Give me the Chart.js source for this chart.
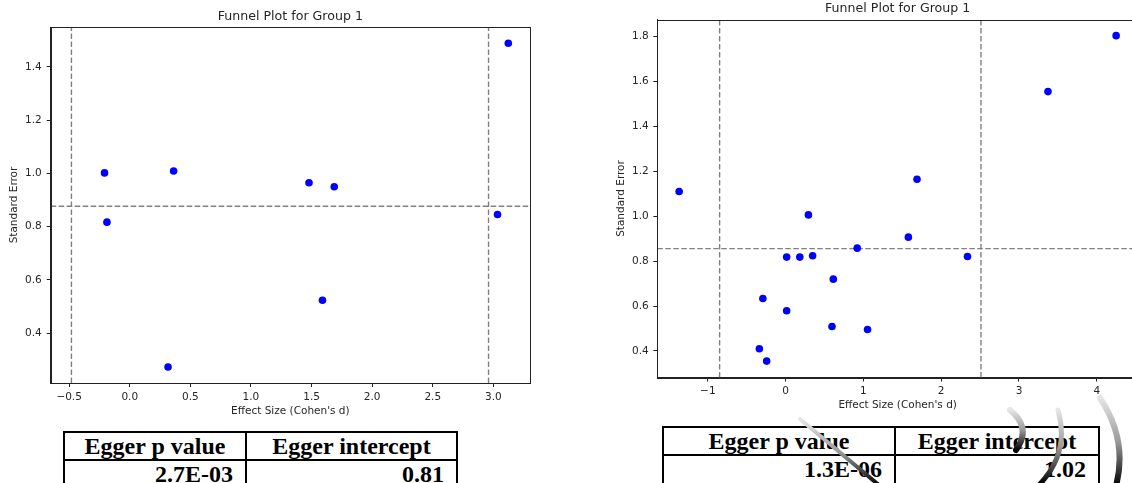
<!DOCTYPE html>
<html>
<head>
<meta charset="utf-8">
<script src="https://cdn.jsdelivr.net/npm/chart.js@4.4.0/dist/chart.umd.min.js"></script>
<style>
  html, body { margin: 0; padding: 0; background: #fff; width: 1132px; height: 483px; overflow: hidden; position: relative; }
  canvas { position: absolute; }
  .tbl { position: absolute; border-collapse: collapse; font-family: "Liberation Serif", "Times New Roman", serif; font-weight: bold; font-size: 24px; color: #000; }
  .tbl td { border: 2px solid #000; line-height: 24px; padding: 0 12px; box-sizing: border-box; white-space: nowrap; }
  .tbl tr.h td { text-align: center; height: 28px; }
  .tbl tr.v td { text-align: right; height: 32px; vertical-align: top; padding-top: 1px; }
  svg.wm { position: absolute; left: 0; top: 0; pointer-events: none; }
</style>
</head>
<body>
<canvas id="c1" width="545" height="420" style="left:0px;top:0px;"></canvas>
<canvas id="c2" width="560" height="420" style="left:600px;top:0px;"></canvas>

<table class="tbl" id="t1" style="left:63px;top:431px;width:395px;">
  <tr class="h"><td style="width:182px">Egger p value</td><td>Egger intercept</td></tr>
  <tr class="v"><td>2.7E-03</td><td>0.81</td></tr>
</table>
<table class="tbl" id="t2" style="left:662px;top:426px;width:438px;">
  <tr class="h"><td style="width:232px">Egger p value</td><td>Egger intercept</td></tr>
  <tr class="v"><td>1.3E-06</td><td>1.02</td></tr>
</table>

<svg class="wm" width="1132" height="483" viewBox="0 0 1132 483">
  <defs>
    <linearGradient id="g1" x1="0" y1="0" x2="0" y2="1">
      <stop offset="0" stop-color="#e6e6e6"/>
      <stop offset="0.5" stop-color="#999"/>
      <stop offset="1" stop-color="#000"/>
    </linearGradient>
  </defs>
  <path d="M 800 419 L 880 486" stroke="url(#g1)" stroke-width="4" fill="none" stroke-linecap="round"/>
  <path d="M 1010 410 Q 1032 428 1016 450" stroke="url(#g1)" stroke-width="6" fill="none" stroke-linecap="round"/>
  <path d="M 1058 410 Q 1070 452 1040 484" stroke="url(#g1)" stroke-width="5" fill="none" stroke-linecap="round"/>
  <path d="M 1100 398 Q 1128 440 1116 486" stroke="url(#g1)" stroke-width="6" fill="none" stroke-linecap="round"/>
</svg>

<script>
// ---------- Data: chart 1 ----------
const title1 = "Funnel Plot for Group 1";
const effect1 = [-0.208, -0.188, 0.362, 0.316, 1.479, 1.687, 1.590, 3.034, 3.123];
const se1     = [1.002, 0.817, 1.009, 0.273, 0.965, 0.950, 0.524, 0.846, 1.489];
const vlines1 = [-0.481, 2.960];
const hline1  = 0.877;
const xTicks1 = [-0.5, 0.0, 0.5, 1.0, 1.5, 2.0, 2.5, 3.0];
const yTicks1 = [0.4, 0.6, 0.8, 1.0, 1.2, 1.4];

// ---------- Data: chart 2 ----------
const title2 = "Funnel Plot for Group 1";
const effect2 = [-1.369, 0.293, 1.689, 1.578, 0.920, 0.013, 0.182, 0.347, 2.338, 0.613, -0.293, 0.013, 0.596, 1.053, -0.338, -0.244, 3.373, 4.249];
const se2     = [1.110, 1.006, 1.165, 0.907, 0.858, 0.818, 0.818, 0.824, 0.821, 0.720, 0.634, 0.579, 0.509, 0.496, 0.410, 0.355, 1.555, 1.804];
const vlines2 = [-0.849, 2.511];
const hline2  = 0.856;
const xTicks2 = [-1, 0, 1, 2, 3, 4];
const yTicks2 = [0.4, 0.6, 0.8, 1.0, 1.2, 1.4, 1.6, 1.8];

const xLabel = "Effect Size (Cohen's d)";
const yLabel = "Standard Error";

const FONT = "'DejaVu Sans', sans-serif";
const TXT = '#262626';

function fmt(v, dec) { return v.toFixed(dec).replace('-', '\u2212'); }

function makeChart(id, cfg) {
  const pts = cfg.xs.map((x, i) => ({ x: x, y: cfg.ys[i] }));
  const datasets = [{
    type: 'scatter', data: pts, backgroundColor: '#0000ff', borderColor: '#0000ff',
    pointRadius: 3.8, pointHoverRadius: 3.8, borderWidth: 0, order: 0
  }];
  cfg.vlines.forEach(v => datasets.push({
    type: 'line', data: [{ x: v, y: cfg.yMin }, { x: v, y: cfg.yMax }],
    borderColor: '#808080', borderWidth: 1.4, borderDash: [5.5, 2.5], pointRadius: 0, order: 1
  }));
  datasets.push({
    type: 'line', data: [{ x: cfg.xMin, y: cfg.hline }, { x: cfg.xMax, y: cfg.hline }],
    borderColor: '#808080', borderWidth: 1.4, borderDash: [5.5, 2.5], pointRadius: 0, order: 1
  });

  const framePlugin = {
    id: 'frame',
    afterDraw(chart) {
      const a = chart.chartArea, ctx = chart.ctx;
      ctx.save();
      ctx.strokeStyle = '#222';
      ctx.lineWidth = 1;
      ctx.strokeRect(Math.round(a.left) + 0.5, Math.round(a.top) + 0.5, Math.round(a.right - a.left), Math.round(a.bottom - a.top));
      ctx.fillStyle = TXT;
      ctx.font = "12.6px " + FONT;
      ctx.textAlign = 'center';
      ctx.textBaseline = 'middle';
      ctx.fillText(cfg.title, (a.left + a.right) / 2, cfg.titleY);
      ctx.restore();
    }
  };

  return new Chart(document.getElementById(id), {
    data: { datasets: datasets },
    options: {
      responsive: false, animation: false, devicePixelRatio: 1,
      layout: { padding: { top: cfg.padTop, right: cfg.padRight, left: 0, bottom: 0 } },
      plugins: { legend: { display: false }, tooltip: { enabled: false }, title: { display: false } },
      scales: {
        x: {
          type: 'linear', min: cfg.xMin, max: cfg.xMax,
          afterBuildTicks(s) { s.ticks = cfg.xTicks.map(v => ({ value: v })); },
          afterFit(s) { s.height = cfg.xAxisH; },
          grid: { display: true, drawOnChartArea: false, drawTicks: true, tickLength: 4, color: '#222', tickWidth: 1 },
          border: { display: true, color: '#222', width: 1 },
          ticks: { color: TXT, font: { family: FONT, size: 10.5 }, padding: cfg.xTickPad, maxRotation: 0, autoSkip: false,
                   callback: v => fmt(v, cfg.xDec) },
          title: { display: true, text: xLabel, color: TXT, font: { family: FONT, size: 10.5 }, padding: { top: 0, bottom: cfg.xTitlePad } }
        },
        y: {
          type: 'linear', min: cfg.yMin, max: cfg.yMax,
          afterBuildTicks(s) { s.ticks = cfg.yTicks.map(v => ({ value: v })); },
          afterFit(s) { s.width = cfg.yAxisW; },
          grid: { display: true, drawOnChartArea: false, drawTicks: true, tickLength: 4, color: '#222', tickWidth: 1 },
          border: { display: true, color: '#222', width: 1 },
          ticks: { color: TXT, font: { family: FONT, size: 10.5 }, padding: cfg.yTickPad, autoSkip: false,
                   callback: v => fmt(v, 1) },
          title: { display: true, text: yLabel, color: TXT, font: { family: FONT, size: 10.5 }, padding: { top: cfg.yTitlePad, bottom: 0 } }
        }
      }
    },
    plugins: [framePlugin]
  });
}

makeChart('c1', {
  title: title1, titleY: 16.7, xs: effect1, ys: se1, vlines: vlines1, hline: hline1,
  xTicks: xTicks1, yTicks: yTicks1, xDec: 1,
  xMin: -0.652, xMax: 3.302, yMin: 0.213, yMax: 1.550,
  padTop: 27, padRight: 15, xAxisH: 37, yAxisW: 50.7,
  xTickPad: 3.5, xTitlePad: 2.7, yTickPad: 5, yTitlePad: 8
});

makeChart('c2', {
  title: title2, titleY: 8.3, xs: effect2, ys: se2, vlines: vlines2, hline: hline2,
  xTicks: xTicks2, yTicks: yTicks2, xDec: 0,
  xMin: -1.650, xMax: 4.530, yMin: 0.282, yMax: 1.876,
  padTop: 19.5, padRight: 22, xAxisH: 42.5, yAxisW: 57.3,
  xTickPad: 3, xTitlePad: 8, yTickPad: 4.5, yTitlePad: 14.5
});
</script>
</body>
</html>
